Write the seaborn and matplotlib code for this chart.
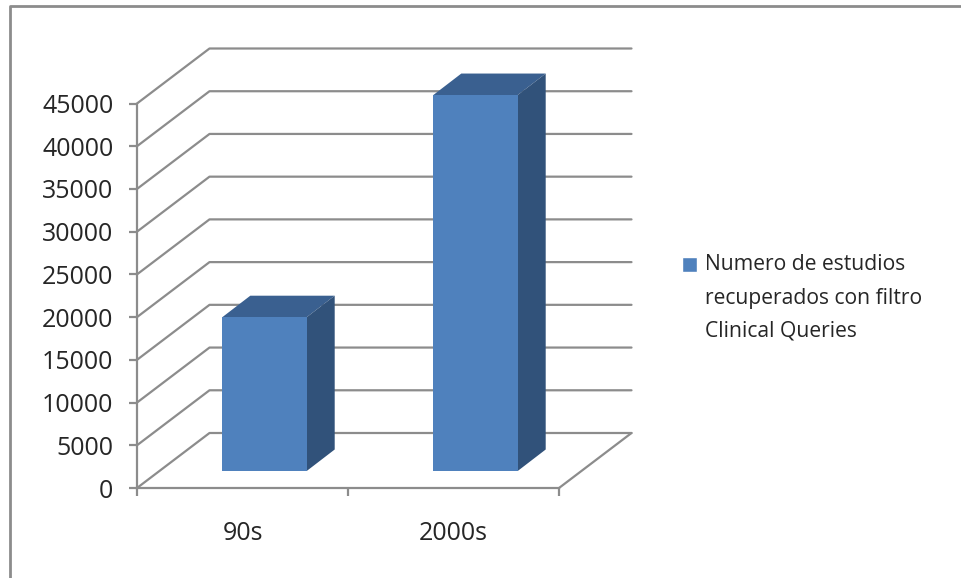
import matplotlib
matplotlib.use("Agg")
import matplotlib.pyplot as plt
from matplotlib.legend_handler import HandlerPatch
from matplotlib.lines import Line2D
from matplotlib.patches import Patch, Polygon, Rectangle
from matplotlib.transforms import Affine2D, IdentityTransform
import pandas as pd
import seaborn as sns

# Chart data
decades = ["90s", "2000s"]
study_counts = [18000, 44000]
value_ticks = [0, 5000, 10000, 15000, 20000, 25000, 30000, 35000, 40000, 45000]
series_label = "Numero de estudios\nrecuperados con filtro\nClinical Queries"

FACE = "#4F81BD"
SIDE = "#31527A"
TOP = "#3A6090"
GREY = "#8C8C8C"
INK = "#262626"
W, H = 962, 578

sns.set_theme(style="white")
plt.rcParams["font.family"] = ["Open Sans", "DejaVu Sans"]

fig = plt.figure(figsize=(W / 100, H / 100), dpi=100)


def frac_rect(left, right, top, bottom):
    return [left / W, 1 - bottom / H, (right - left) / W, (bottom - top) / H]


# Front plane of the chart box, carrying the axis lines and the labels
ax = fig.add_axes(frac_rect(137, 559, 103.5, 488))
ax.set_xlim(-0.5, 1.5)
ax.set_ylim(0, 45000)
ax.set_facecolor("none")
for side in ("top", "right"):
    ax.spines[side].set_visible(False)
for side in ("left", "bottom"):
    ax.spines[side].set_color(GREY)
    ax.spines[side].set_linewidth(1.6)
ax.set_yticks(value_ticks)
ax.tick_params(axis="y", length=6, width=1.6, color=GREY, labelsize=18, labelcolor=INK, pad=11, left=True)
ax.set_xticks([-0.5, 0.5, 1.5])
ax.set_xticklabels([])
ax.tick_params(axis="x", which="major", length=6, width=1.6, color=GREY, bottom=True)
ax.set_xticks([0, 1], labels=decades, minor=True)
ax.tick_params(axis="x", which="minor", length=0, labelsize=18, labelcolor=INK, pad=23.5)

# Floor edges and back wall: each gridline runs along the side wall, then across the back
depth = Affine2D().translate(72.5, 55)
back = ax.transData + depth
for value in value_ticks:
    start = ax.transData.transform((-0.5, value))
    corner = back.transform((-0.5, value))
    end = back.transform((1.5, value))
    fig.add_artist(Line2D([start[0], corner[0], end[0]], [start[1], corner[1], end[1]],
                          transform=IdentityTransform(), color=GREY, lw=1.6, zorder=1))
floor_a = ax.transData.transform((1.5, 0))
floor_b = back.transform((1.5, 0))
fig.add_artist(Line2D([floor_a[0], floor_b[0]], [floor_a[1], floor_b[1]],
                      transform=IdentityTransform(), color=GREY, lw=1.6, zorder=1))

# Bars stand a little way inside the box, so their axes is shifted along the depth
bar_ax = fig.add_axes(frac_rect(159, 581, 86.5, 471), zorder=3)
bar_ax.set_facecolor("none")
frame = pd.DataFrame({"decade": decades, "studies": study_counts})
sns.barplot(data=frame, x="decade", y="studies", color=FACE, saturation=1, width=0.4,
            linewidth=0, ax=bar_ax)
bar_ax.set_xlim(-0.5, 1.5)
bar_ax.set_ylim(0, 45000)
bar_ax.axis("off")

# Top and side faces extruded from each bar's front rectangle
dx, dy = 28, 21.5
for bar in bar_ax.patches:
    bar.set_edgecolor("none")
    (x0, y0), (x1, y1) = bar_ax.transData.transform(
        [(bar.get_x(), 0), (bar.get_x() + bar.get_width(), bar.get_height())])
    fig.add_artist(Polygon([(x0, y1), (x1, y1), (x1 + dx, y1 + dy), (x0 + dx, y1 + dy)],
                           transform=IdentityTransform(), facecolor=TOP, edgecolor="none", zorder=5))
    fig.add_artist(Polygon([(x1, y0), (x1 + dx, y0 + dy), (x1 + dx, y1 + dy), (x1, y1)],
                           transform=IdentityTransform(), facecolor=SIDE, edgecolor="none", zorder=5))
bar_ax.set_zorder(6)

# Outer frame: top and left edges only
fig.add_artist(Line2D([9.5 / W, 9.5 / W, 1], [0, 1 - 6 / H, 1 - 6 / H],
                      transform=fig.transFigure, color=GREY, lw=2))


def first_line_swatch(legend, orig_handle, xdescent, ydescent, width, height, fontsize):
    # Lifts the colour key level with the first line of the three-line label
    return Rectangle((-xdescent, -ydescent + 25.0), width, width)


legend = fig.legend(handles=[Patch(facecolor=FACE, label=series_label)],
                    handler_map={Patch: HandlerPatch(patch_func=first_line_swatch)},
                    loc="upper left", bbox_to_anchor=(682 / W, 1 - 254.5 / H), frameon=False,
                    fontsize=15.2, labelcolor=INK, handlelength=0.71, handleheight=0.71,
                    handletextpad=0.38, borderpad=0, borderaxespad=0)
for text in legend.get_texts():
    text.set_linespacing(1.76)

fig.savefig("out.png", dpi=100)
